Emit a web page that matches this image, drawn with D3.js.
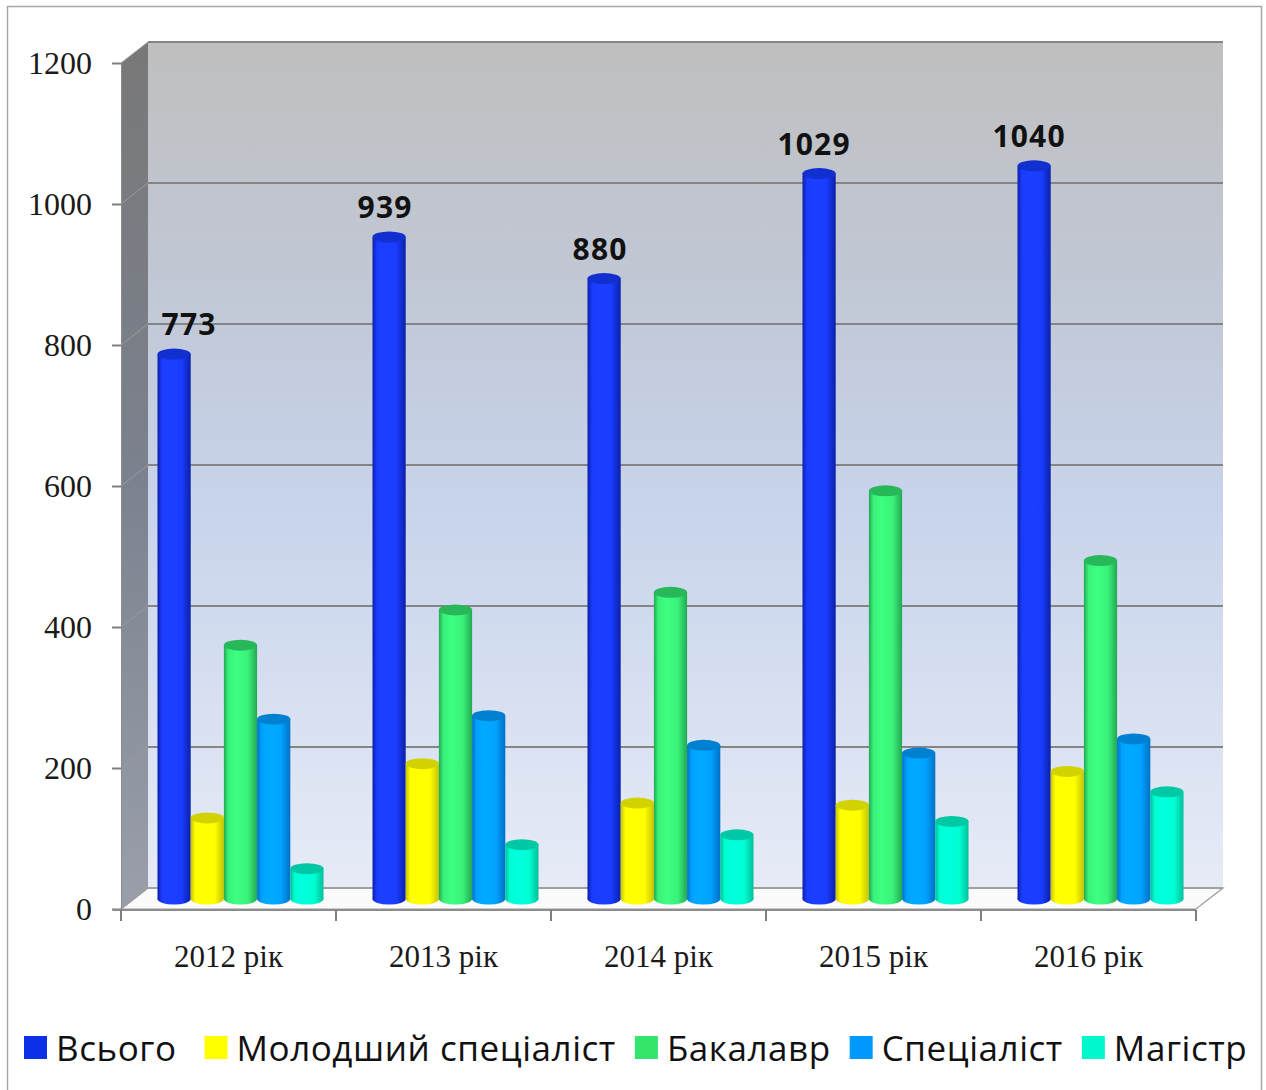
<!DOCTYPE html>
<html>
<head>
<meta charset="utf-8">
<script src="https://cdn.jsdelivr.net/npm/d3@7"></script>
<style>
  html, body { margin: 0; padding: 0; background: #ffffff; }
  svg { display: block; }
</style>
</head>
<body>
<svg id="chart" width="1266" height="1090"></svg>
<script>
// ---------- data ----------
const years = ["2012 рік", "2013 рік", "2014 рік", "2015 рік", "2016 рік"];
const seriesNames = ["Всього", "Молодший спеціаліст", "Бакалавр", "Спеціаліст", "Магістр"];
const total      = [773, 939, 880, 1029, 1040];
const junior     = [115, 192, 136, 133, 181];
const bachelor   = [360, 410, 435, 579, 480];
const specialist = [255, 260, 218, 207, 227];
const master     = [43, 77, 91, 110, 152];
const yTicks = [0, 200, 400, 600, 800, 1000, 1200];

const seriesValues = [total, junior, bachelor, specialist, master];

// ---------- styling ----------
const colors = {
  "Всього":              { main: "#1a3cff", dark: "#0b20a8", top: "#1230d0", legend: "#0c30e8" },
  "Молодший спеціаліст": { main: "#ffff00", dark: "#c4c400", top: "#d2d200", legend: "#ffff00" },
  "Бакалавр":            { main: "#3af27a", dark: "#22a852", top: "#28b85a", legend: "#33e66b" },
  "Спеціаліст":          { main: "#00a2ff", dark: "#0070c4", top: "#0080d0", legend: "#0099ff" },
  "Магістр":             { main: "#00ffd2", dark: "#00bf9c", top: "#00c8a4", legend: "#00f8cc" }
};
const labelDx = [15, -4, -4, -5, -5];

const svg = d3.select("#chart");
const defs = svg.append("defs");

// geometry
const back = { left: 148, right: 1223, top: 42, bottom: 888 };
const depth = { dx: -27, dy: 21 };           // back -> front offset
const front = { left: back.left + depth.dx, right: back.right + depth.dx };
const barBase = 899;                          // bar depth base line
const barDx = 12;                             // bar depth offset from front

const yBack = d3.scaleLinear().domain([0, 1200]).range([back.bottom, back.top]);
const yFront = d3.scaleLinear().domain([0, 1200]).range([back.bottom + depth.dy, back.top + depth.dy]);
const yBar = d3.scaleLinear().domain([0, 1200]).range([barBase, barBase - (back.bottom - back.top)]);

const x = d3.scaleBand().domain(years).range([front.left, front.right]).paddingInner(0).paddingOuter(0);
const xs = d3.scaleBand().domain(seriesNames).range([0, x.bandwidth()]).paddingInner(0).paddingOuter(0.738);

// frame
svg.append("rect").attr("x", 7.5).attr("y", 6.5).attr("width", 1254).attr("height", 1100)
  .attr("fill", "#ffffff").attr("stroke", "#a6a6a6").attr("stroke-width", 1.5);

// back wall gradient
const gWall = defs.append("linearGradient").attr("id", "wallGrad").attr("x1", 0).attr("y1", 0).attr("x2", 0).attr("y2", 1);
[["0%", "#bfbfbf"], ["30%", "#c1c8d6"], ["55%", "#c8d4ec"], ["100%", "#e6ebf6"]]
  .forEach(([o, c]) => gWall.append("stop").attr("offset", o).attr("stop-color", c));
const gSide = defs.append("linearGradient").attr("id", "sideGrad").attr("x1", 0).attr("y1", 0).attr("x2", 0).attr("y2", 1);
[["0%", "#787878"], ["50%", "#7b818e"], ["100%", "#9a9fab"]]
  .forEach(([o, c]) => gSide.append("stop").attr("offset", o).attr("stop-color", c));

// back wall
svg.append("rect").attr("x", back.left).attr("y", back.top)
  .attr("width", back.right - back.left).attr("height", back.bottom - back.top)
  .attr("fill", "url(#wallGrad)");

// side wall
svg.append("polygon")
  .attr("points", [[back.left, back.top], [back.left, back.bottom], [front.left, back.bottom + depth.dy], [front.left, back.top + depth.dy]].map(p => p.join(",")).join(" "))
  .attr("fill", "url(#sideGrad)");

// floor
svg.append("polygon")
  .attr("points", [[back.left, back.bottom], [back.right, back.bottom], [front.right, back.bottom + depth.dy], [front.left, back.bottom + depth.dy]].map(p => p.join(",")).join(" "))
  .attr("fill", "#fbfbfb").attr("stroke", "#9a9a9a").attr("stroke-width", 1.2);

// gridlines on back wall + side wall
const grid = svg.append("g");
yTicks.forEach(t => {
  grid.append("line").attr("x1", back.left).attr("x2", back.right)
    .attr("y1", yBack(t)).attr("y2", yBack(t))
    .attr("stroke", t === 0 ? "#a0a0a0" : "#858585").attr("stroke-width", 2);
  grid.append("line").attr("x1", back.left).attr("x2", front.left)
    .attr("y1", yBack(t)).attr("y2", yFront(t))
    .attr("stroke", "#9a9a9a").attr("stroke-width", 1);
});

// y axis (front)
const yAxis = d3.axisLeft(yFront).tickValues(yTicks).tickSize(9).tickPadding(20).tickFormat(d3.format("d"));
const yAxisG = svg.append("g").attr("transform", `translate(${front.left},0)`).call(yAxis);
yAxisG.select(".domain").attr("stroke", "#8c8c8c").attr("stroke-width", 1);
yAxisG.selectAll(".tick line").attr("stroke", "#7f7f7f").attr("stroke-width", 2);
yAxisG.selectAll(".tick text")
  .attr("font-family", "'Liberation Serif', 'Times New Roman', serif")
  .attr("font-size", 32).attr("fill", "#1a1a1a");

// x axis (front)
const xAxisG = svg.append("g").attr("transform", `translate(0,${back.bottom + depth.dy + 1})`);
xAxisG.append("line").attr("x1", front.left - 8).attr("x2", front.right)
  .attr("y1", 0).attr("y2", 0).attr("stroke", "#8c8c8c").attr("stroke-width", 2);
const boundaries = years.map(y => x(y)).concat([x(years[years.length - 1]) + x.bandwidth()]);
boundaries.forEach(b => {
  xAxisG.append("line").attr("x1", b).attr("x2", b).attr("y1", 0).attr("y2", 11)
    .attr("stroke", "#7f7f7f").attr("stroke-width", 2);
});
xAxisG.selectAll("text.cat").data(years).join("text").attr("class", "cat")
  .attr("x", d => x(d) + x.bandwidth() / 2).attr("y", 57)
  .attr("text-anchor", "middle")
  .attr("font-family", "'Liberation Serif', 'Times New Roman', serif")
  .attr("font-size", 31).attr("fill", "#1a1a1a")
  .text(d => d);

// cylinder gradients
seriesNames.forEach((s, i) => {
  const c = colors[s];
  const g = defs.append("linearGradient").attr("id", "cyl" + i).attr("x1", 0).attr("x2", 1).attr("y1", 0).attr("y2", 0);
  [["0%", c.dark], ["14%", c.main], ["38%", d3.color(c.main).brighter(0.15)], ["72%", c.main], ["100%", c.dark]]
    .forEach(([o, col]) => g.append("stop").attr("offset", o).attr("stop-color", col));
});

// bars
const ry = 5.5;
const barsG = svg.append("g");
years.forEach((yr, yi) => {
  seriesNames.forEach((s, si) => {
    const v = seriesValues[si][yi];
    const bx = x(yr) + barDx + xs(s);
    const w = xs.bandwidth();
    const cx = bx + w / 2;
    const top = yBar(v);
    const base = yBar(0);
    const g = barsG.append("g");
    g.append("ellipse").attr("cx", cx).attr("cy", base).attr("rx", w / 2).attr("ry", ry)
      .attr("fill", "url(#cyl" + si + ")");
    g.append("rect").attr("x", bx).attr("y", top).attr("width", w).attr("height", base - top)
      .attr("fill", "url(#cyl" + si + ")");
    g.append("ellipse").attr("cx", cx).attr("cy", top).attr("rx", w / 2).attr("ry", ry)
      .attr("fill", colors[s].top);
  });
});

// data labels for total
const labelsG = svg.append("g");
years.forEach((yr, yi) => {
  const s = seriesNames[0];
  const cx = x(yr) + barDx + xs(s) + xs.bandwidth() / 2 + labelDx[yi];
  labelsG.append("text")
    .attr("x", cx).attr("y", yBar(total[yi]) - 19)
    .attr("text-anchor", "middle")
    .attr("font-family", "'Open Sans', 'Noto Sans', sans-serif")
    .attr("font-weight", 700).attr("font-size", 30).attr("letter-spacing", 1.2)
    .attr("fill", "#111111")
    .text(total[yi]);
});

// legend
const legendG = svg.append("g");
let lx = 24;
const ly = 1048;
seriesNames.forEach((s, i) => {
  legendG.append("rect").attr("x", lx).attr("y", ly - 12).attr("width", 23).attr("height", 23)
    .attr("fill", colors[s].legend);
  const t = legendG.append("text").attr("x", lx + 32).attr("y", ly + 13)
    .attr("font-family", "'Open Sans', 'Noto Sans', sans-serif")
    .attr("font-size", 35).attr("letter-spacing", 0.55).attr("fill", "#111111").text(s);
  const tw = t.node().getComputedTextLength();
  lx = lx + 32 + tw + (i === 0 ? 28 : 19);
});
</script>
</body>
</html>
